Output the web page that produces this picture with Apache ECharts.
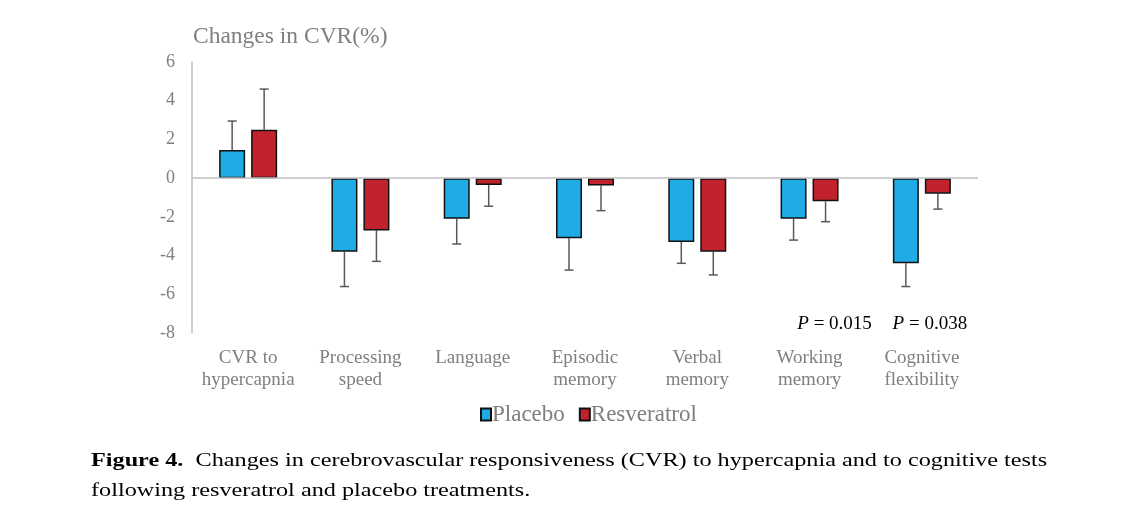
<!DOCTYPE html>
<html>
<head>
<meta charset="utf-8">
<script src="https://cdn.jsdelivr.net/npm/echarts@6/dist/echarts.min.js"></script>
<style>
html,body{margin:0;padding:0;background:#fff;}
#c{width:1139px;height:521px;}
</style>
</head>
<body>
<div id="c"></div>
<script>
const categories = ['CVR to\nhypercapnia','Processing\nspeed','Language','Episodic\nmemory','Verbal\nmemory','Working\nmemory','Cognitive\nflexibility'];
const placeboMeans = [1.45, -3.8, -2.1, -3.1, -3.3, -2.1, -4.4];
const placeboErr   = [1.5, 1.8, 1.3, 1.65, 1.1, 1.1, 1.2];
const resvMeans    = [2.5, -2.7, -0.35, -0.38, -3.8, -1.2, -0.8];
const resvErr      = [2.1, 1.6, 1.1, 1.3, 1.2, 1.05, 0.8];
const yTicks = {min: -8, max: 6, interval: 2};
const pLabels = ['P = 0.015', 'P = 0.038'];
const pCategoryIdx = [5, 6];

const BAR_W = 26, GAP = 6;
const P_DX = [25, 8];
const serif = '"Liberation Serif", "DejaVu Serif", serif';
const gray = '#7f7f7f';

function errSeries(name, means, errs, sign) {
  return {
    type: 'custom',
    name: name + ' err',
    silent: true,
    z: 1,
    data: means.map((m, i) => [i, m, errs[i]]),
    renderItem: function (params, api) {
      const i = api.value(0), m = api.value(1), e = api.value(2);
      const end = m >= 0 ? m + e : m - e;
      const p0 = api.coord([i, m]);
      const p1 = api.coord([i, end]);
      const x = p0[0] + sign * (BAR_W + GAP) / 2;
      const cap = 4.5;
      const style = {stroke: '#595959', lineWidth: 1.5};
      return {
        type: 'group',
        children: [
          {type: 'line', shape: {x1: x, y1: p0[1], x2: x, y2: p1[1]}, style: style},
          {type: 'line', shape: {x1: x - cap, y1: p1[1], x2: x + cap, y2: p1[1]}, style: style}
        ]
      };
    }
  };
}

const chart = echarts.init(document.getElementById('c'));
chart.setOption({
  animation: false,
  backgroundColor: '#fff',
  title: {
    text: 'Changes in CVR(%)',
    left: 193, top: 25, padding: 0,
    textStyle: {fontFamily: serif, fontSize: 23.5, fontWeight: 'normal', color: gray}
  },
  legend: {
    data: ['Placebo', 'Resveratrol'],
    left: 475, top: 398,
    icon: 'rect', itemWidth: 10, itemHeight: 12, itemGap: 14,
    textStyle: {fontFamily: serif, fontSize: 23, color: gray, padding: [0,0,0,-4]}
  },
  grid: {left: 192, right: 161, top: 62, bottom: 188, containLabel: false},
  xAxis: {
    type: 'category',
    data: categories,
    axisLine: {show: false, onZero: false},
    axisTick: {show: false},
    axisLabel: {fontFamily: serif, fontSize: 19, color: gray, lineHeight: 22, margin: 14, interval: 0}
  },
  yAxis: {
    type: 'value',
    min: yTicks.min, max: yTicks.max, interval: yTicks.interval,
    axisLine: {show: true, lineStyle: {color: '#bfbfbf', width: 1.5}},
    axisTick: {show: false},
    splitLine: {show: false},
    axisLabel: {fontFamily: serif, fontSize: 18, color: gray, margin: 17}
  },
  series: [
    {
      name: 'Placebo', type: 'bar', data: placeboMeans,
      barWidth: BAR_W, barGap: (GAP / BAR_W * 100) + '%',
      itemStyle: {color: '#1FABE6', borderColor: '#111', borderWidth: 1.5},
      z: 3,
      markLine: {
        silent: true, symbol: 'none', label: {show: false},
        lineStyle: {color: '#bfbfbf', width: 1.5, type: 'solid'},
        data: [{yAxis: 0}]
      }
    },
    {
      name: 'Resveratrol', type: 'bar', data: resvMeans,
      barWidth: BAR_W,
      itemStyle: {color: '#C0232C', borderColor: '#111', borderWidth: 1.5},
      z: 3
    },
    errSeries('Placebo', placeboMeans, placeboErr, -1),
    errSeries('Resveratrol', resvMeans, resvErr, 1),
    {
      type: 'custom', silent: true, z: 4,
      data: pCategoryIdx.map((c, k) => [c, k]),
      renderItem: function (params, api) {
        const c = api.value(0), k = api.value(1);
        const p = api.coord([c, -7.5]);
        const parts = pLabels[k].split(' ');
        return {
          type: 'text',
          x: p[0] + P_DX[k], y: p[1] + 1,
          style: {
            text: '{i|' + parts[0] + '} ' + parts.slice(1).join(' '),
            rich: {i: {fontStyle: 'italic', fontFamily: serif, fontSize: 19, fill: '#000'}},
            fontFamily: serif, fontSize: 19, fill: '#000',
            textAlign: 'center', textVerticalAlign: 'middle'
          }
        };
      }
    }
  ],
  graphic: [
    {
      type: 'text', left: 91, top: 452, scaleX: 1.275,
      style: {
        text: '{b|Figure 4.}  Changes in cerebrovascular responsiveness (CVR) to hypercapnia and to cognitive tests',
        rich: {b: {fontWeight: 'bold', fontFamily: serif, fontSize: 19, fill: '#000'}},
        fontFamily: serif, fontSize: 19, fill: '#000'
      }
    },
    {
      type: 'text', left: 91, top: 482, scaleX: 1.275,
      style: {
        text: 'following resveratrol and placebo treatments.',
        fontFamily: serif, fontSize: 19, fill: '#000'
      }
    }
  ]
});
</script>
</body>
</html>
